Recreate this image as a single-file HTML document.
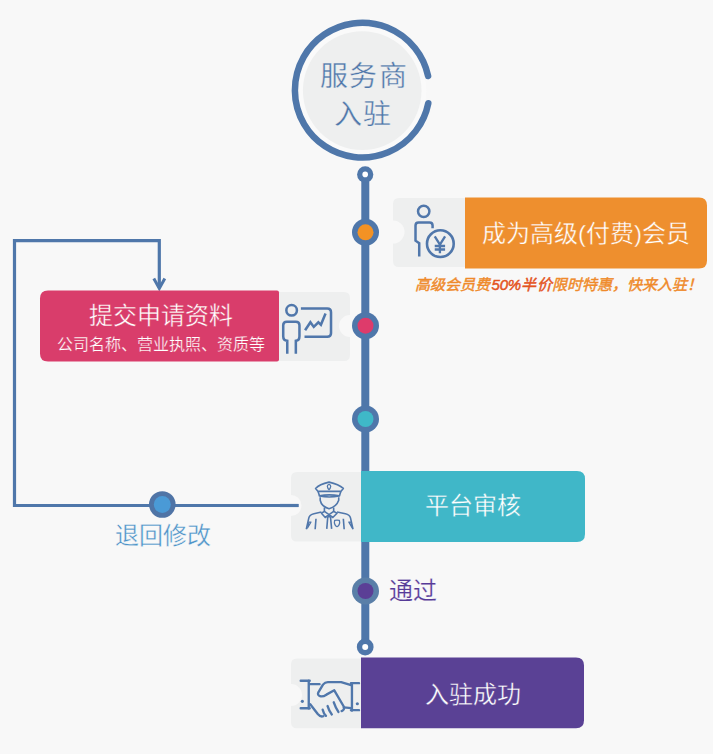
<!DOCTYPE html>
<html lang="zh-CN"><head><meta charset="utf-8">
<style>
html,body{margin:0;padding:0;background:#f8f8f8;}
body{width:713px;height:754px;position:relative;overflow:hidden;font-family:"Liberation Sans",sans-serif;}
svg.main{position:absolute;left:0;top:0;}
.t{position:absolute;white-space:nowrap;line-height:1;}
</style></head><body>
<svg class="main" width="713" height="754" viewBox="0 0 713 754">
  <!-- top ring -->
  <circle cx="362.2" cy="90.6" r="64" fill="#fafafa"/><circle cx="362.2" cy="90.6" r="59.3" fill="#eeefef"/>
  <path d="M428.1,76.05 A67.35,67.35 0 1 0 428.3,103.25" fill="none" stroke="#4f77aa" stroke-width="6.5" stroke-linecap="round"/>
  <!-- timeline -->
  <line x1="365.3" y1="174" x2="365.3" y2="647" stroke="#4f77aa" stroke-width="8"/>
  <circle cx="365.2" cy="174.4" r="8.1" fill="#4f77aa"/><circle cx="365.2" cy="174.4" r="2.8" fill="#fff"/>
  <circle cx="365.2" cy="647" r="8.4" fill="#4f77aa"/><circle cx="365.2" cy="647" r="3" fill="#fff"/>
  <!-- loop -->
  <path d="M159.3,288 V240.6 H14.5 V505.5 H298.5" fill="none" stroke="#4f77aa" stroke-width="3.2" stroke-linejoin="miter"/>
  <path d="M153.8,278.5 L159.3,288.5 L164.8,278.5" fill="none" stroke="#4f77aa" stroke-width="3" stroke-linejoin="miter"/>
  <circle cx="162.3" cy="504.5" r="13.3" fill="#4f74a6"/><circle cx="162.3" cy="504.5" r="8.5" fill="#4a9ad6"/>

  <!-- orange -->
  <path d="M399,198 H465 V267 H399 Q393,267 393,261 V243.5 A11.5,11.5 0 0 0 393,220.5 V204 Q393,198 399,198 Z" fill="#eeefef"/>
  <path d="M465,197.5 H699 Q707,197.5 707,205.5 V260.5 Q707,268.5 699,268.5 H465 Z" fill="#ee8f2e"/>
  <circle cx="365.5" cy="232.3" r="13.5" fill="#4f77aa"/><circle cx="365.5" cy="232.3" r="8" fill="#f39224"/>

  <!-- pink -->
  <path d="M278,292 H344 Q350,292 350,298 V315 A11,11 0 0 0 350,337 V355 Q350,361 344,361 H278 Z" fill="#eeefef"/>
  <path d="M48,290.5 H277 Q279,290.5 279,292.5 V359.5 Q279,361.5 277,361.5 H48 Q40,361.5 40,353.5 V298.5 Q40,290.5 48,290.5 Z" fill="#d93d6b"/>
  <circle cx="365.5" cy="325.7" r="13.5" fill="#4f77aa"/><circle cx="365.5" cy="325.7" r="8" fill="#de3b6b"/>

  <!-- teal -->
  <circle cx="365.5" cy="419" r="13.5" fill="#4f77aa"/><circle cx="365.5" cy="419" r="8" fill="#3fb8c8"/>
  <path d="M297,472 H362 V541.5 H297 Q291,541.5 291,535.5 V516 A10.5,10.5 0 0 0 291,495 V478 Q291,472 297,472 Z" fill="#eeefef"/>
  <path d="M361,471 H577 Q585,471 585,479 V534 Q585,542 577,542 H361 Z" fill="#40b7c8"/>
  <line x1="280" y1="505.5" x2="298.5" y2="505.5" stroke="#4f77aa" stroke-width="3.2"/>

  <!-- purple -->
  <circle cx="365.5" cy="591" r="13.5" fill="#5a7fa8"/><circle cx="365.5" cy="591" r="8" fill="#5b3f96"/>
  <path d="M297,658.5 H362 V728.3 H297 Q291,728.3 291,722.3 V706 A11,11 0 0 0 291,684 V664.5 Q291,658.5 297,658.5 Z" fill="#eeefef"/>
  <path d="M361,657.6 H576 Q584,657.6 584,665.6 V720.3 Q584,728.3 576,728.3 H361 Z" fill="#5a4195"/>
</svg>

<svg style="position:absolute;left:405px;top:198px" width="55" height="65" viewBox="0 0 638 754">
 <g fill="none" stroke="#5077ab" stroke-width="29">
  <circle cx="217" cy="155" r="66"/>
  <path d="M165,680 V525 L122,495 V320 Q122,285 157,285 H285 Q320,285 320,320 V352"/>
  <circle cx="410" cy="530" r="155" stroke-width="30"/>
  <path d="M345,445 L405,540 L465,445 M405,540 V640 M345,557 H465 M345,597 H465" stroke-width="27"/>
 </g>
</svg>
<svg style="position:absolute;left:278px;top:300px" width="60" height="60" viewBox="0 0 713 713">
 <g fill="none" stroke="#5077ab" stroke-width="30">
  <circle cx="162" cy="122" r="63"/>
  <path d="M110,640 V485 Q62,480 62,430 V300 Q62,258 105,258 H212 Q255,258 255,300 V430 Q255,480 212,485 V640"/>
  <path d="M272,100 H585 Q630,100 630,145 V395 Q630,437 585,437 H315"/>
  <path d="M322,360 L385,265 L425,320 L480,265 L510,295 L565,160" stroke-linejoin="miter"/>
 </g>
</svg>
<svg style="position:absolute;left:300px;top:475px" width="60" height="60" viewBox="0 0 713 713">
 <g fill="none" stroke="#5077ab" stroke-width="19" stroke-linejoin="round">
  <path d="M185,160 Q230,110 345,85 Q460,110 515,160 L485,195 H215 Z"/>
  <path d="M215,195 L232,250 M485,195 L468,250"/>
  <path d="M232,248 Q345,225 468,248 Q345,275 232,248 Z"/>
  <path d="M345,110 Q325,118 325,135 Q330,165 345,175 Q360,165 365,135 Q365,118 345,110 Z" stroke-width="15"/>
  <path d="M240,265 V300 Q255,375 345,400 Q435,375 460,300 V265"/>
  <path d="M290,385 V432 M400,385 V432"/>
  <path d="M290,432 L255,455 L300,505 L345,470 L390,505 L440,455 L400,432 L345,470 Z"/>
  <path d="M330,495 L318,640 M362,495 L376,640 M330,495 H362"/>
  <path d="M75,645 L105,510 Q115,470 165,460 L255,440 M630,645 L600,510 Q590,470 540,460 L440,440"/>
  <path d="M190,520 L180,645 M515,520 L525,645"/>
  <path d="M105,560 L90,630 L130,560 Z M605,560 L620,630 L580,560 Z" stroke-width="14"/>
  <path d="M412,540 Q440,530 468,540 L472,570 Q462,610 440,615 Q418,610 408,570 Z" stroke-width="15"/>
  <path d="M70,650 H640" stroke-width="0"/>
 </g>
</svg>
<svg style="position:absolute;left:295px;top:665px" width="70" height="70" viewBox="0 0 713 713">
 <g fill="none" stroke="#5077ab" stroke-width="24" stroke-linecap="round" stroke-linejoin="round">
  <path d="M58,160 H150 M140,158 V445 M58,440 H150 M150,195 H250"/>
  <circle cx="75" cy="370" r="16" fill="#5077ab" stroke="none"/>
  <path d="M652,185 H570 M580,185 V465 M652,460 H570"/>
  <circle cx="635" cy="395" r="16" fill="#5077ab" stroke="none"/>
  <path d="M572,205 L470,175 H335 Q305,175 285,200 L238,278 Q225,305 255,318 Q285,325 320,302 L400,258 L495,420 Q510,455 475,470"/>
  <path d="M498,432 L572,440"/>
  <path d="M155,400 L232,500 Q258,532 288,522"/>
  <path d="M282,455 Q292,495 315,518 M332,418 Q348,470 375,503 M395,380 Q414,435 442,478"/>
 </g>
</svg>

<div class="t" style="left:319px;top:58px;font-size:28px;color:#4f77aa;-webkit-text-stroke:0.35px #eeefef;width:88px;text-align:center;line-height:37.5px;letter-spacing:1.2px;text-indent:1.2px">服务商<br>入驻</div>
<div class="t" style="left:465px;top:222px;width:242px;text-align:center;font-size:24px;color:#fff;-webkit-text-stroke:0.35px #ee8f2e">成为高级(付费)会员</div>
<div class="t" style="left:414.5px;top:276.5px;font-size:15px;font-style:italic;color:#ef8a2a;-webkit-text-stroke:0.45px #ef8a2a">高级会员费<span style="color:#e4541f;-webkit-text-stroke:0.5px #e4541f;margin-left:2px"><span style="letter-spacing:-0.2px">50%</span><span style="letter-spacing:1.5px">半</span>价</span>限时特惠，快来入驻！</div>
<div class="t" style="left:41px;top:304px;width:239px;text-align:center;font-size:24px;color:#fff;-webkit-text-stroke:0.35px #d93d6b">提交申请资料</div>
<div class="t" style="left:41px;top:337px;width:239px;text-align:center;font-size:16px;color:#fff;-webkit-text-stroke:0.25px #d93d6b">公司名称、营业执照、资质等</div>
<div class="t" style="left:361px;top:494px;width:224px;text-align:center;font-size:24px;color:#fff;-webkit-text-stroke:0.35px #40b7c8">平台审核</div>
<div class="t" style="left:115px;top:523.5px;font-size:24px;color:#4c93c8;-webkit-text-stroke:0.35px #f8f8f8">退回修改</div>
<div class="t" style="left:389px;top:578.5px;font-size:24px;color:#563a98;-webkit-text-stroke:0.2px #f8f8f8">通过</div>
<div class="t" style="left:361.5px;top:683px;width:223px;text-align:center;font-size:24px;color:#fff;-webkit-text-stroke:0.35px #5a4195">入驻成功</div>
</body></html>
